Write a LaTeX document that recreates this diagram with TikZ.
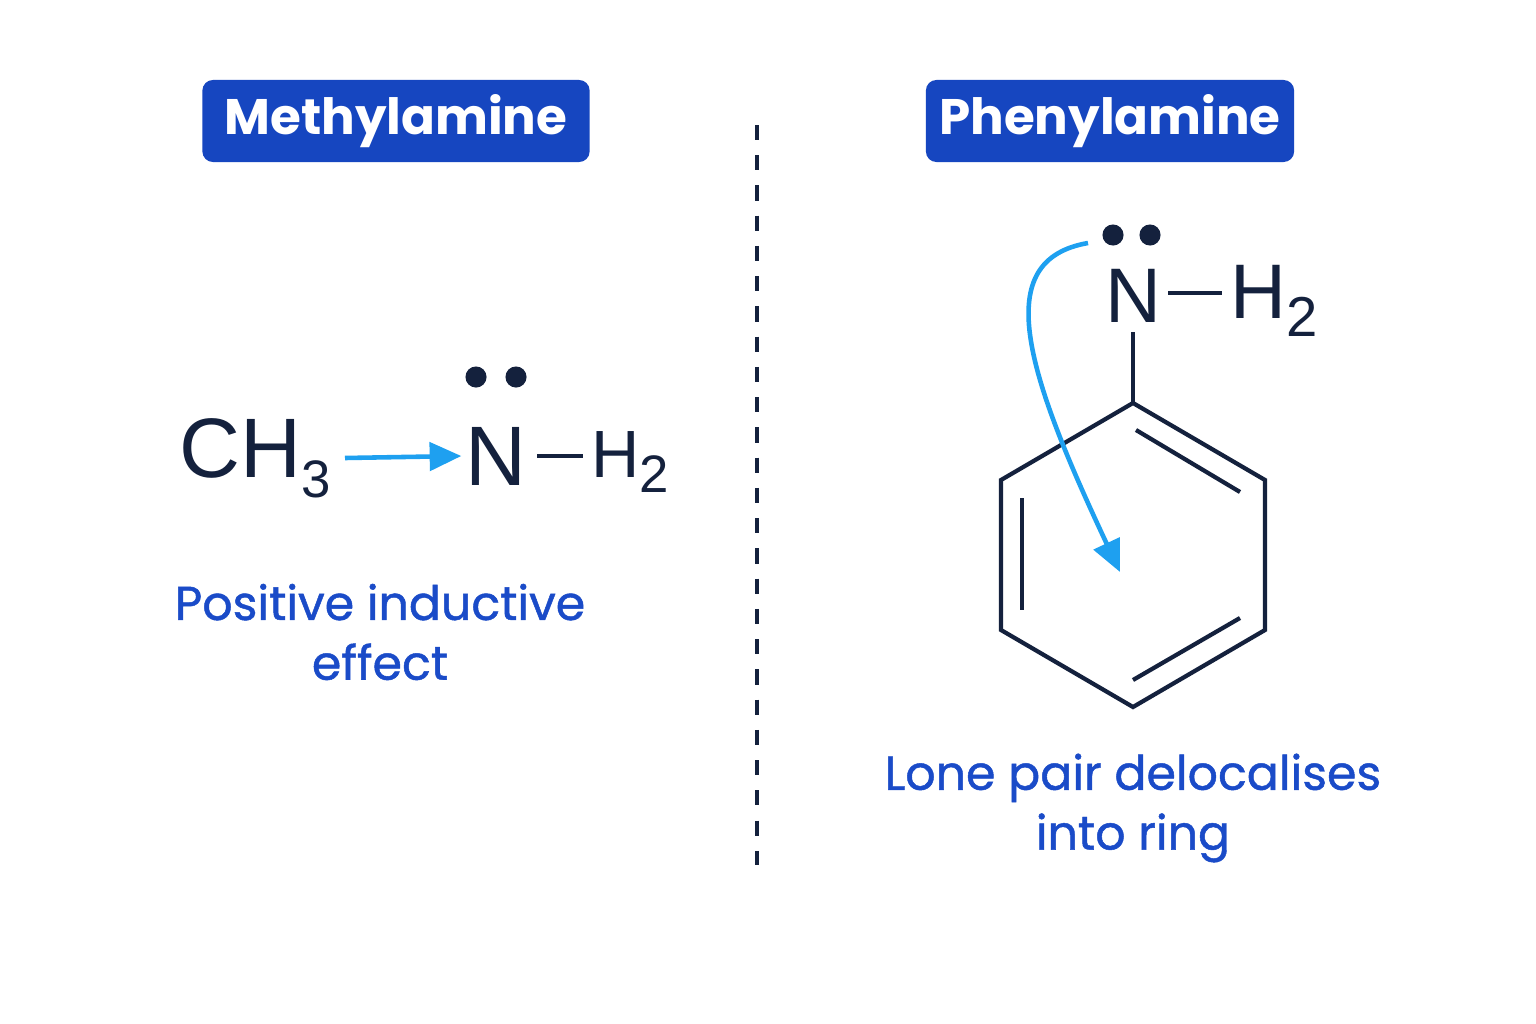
\documentclass[tikz,border=0pt]{standalone}
\usepackage{fontspec}
\setmainfont{Liberation Sans}
\newfontfamily\labelfont{Poppins}
\newfontfamily\notefont[FakeBold=1.0]{Poppins}
\usetikzlibrary{arrows.meta,positioning}
\definecolor{titleblue}{HTML}{1646C0}
\definecolor{textblue}{HTML}{1A4BC8}
\definecolor{arrowblue}{HTML}{1EA0F0}
\definecolor{ink}{HTML}{14213D}
\tikzset{
  title/.style={fill=titleblue, rounded corners=3pt, text=white, font=\labelfont\bfseries\fontsize{14.2}{18}\selectfont, minimum height=0.82cm, inner sep=0pt},
  note/.style={text=textblue, font=\notefont\fontsize{13.5}{17}\selectfont, align=center},
  atom/.style={text=ink, inner sep=1pt},
  bond/.style={ink, line width=1.2pt},
  push/.style={arrowblue, line width=1.3pt, -{Triangle[length=9pt,width=8pt]}},
  pair/.style={circle, fill=ink, inner sep=0pt, minimum size=6pt}
}
\begin{document}
\begin{tikzpicture}[x=0.01cm,y=-0.01cm]
  \fill[white] (0,0) rectangle (1536,1024);
  \useasboundingbox (0,0) rectangle (1536,1024);

  % headers
  \node[title, minimum width=3.87cm] (meth) at (396,121) {Methylamine};
  \node[title, minimum width=3.68cm] (phen) at (1110,121) {Phenylamine};
  \draw[ink, line width=1.3pt, dash pattern=on 4.3pt off 4.3pt] (757,125) -- (757,865);

  % methylamine
  \node[atom, font=\fontsize{24}{26}\selectfont] (ch) at (255,458) {CH\raisebox{-0.45ex}{\fontsize{15}{18}\selectfont 3}};
  \node[atom, font=\fontsize{24}{26}\selectfont] (n1) at (496,456) {N};
  \node[atom, font=\fontsize{19}{22}\selectfont] (h1) at (630,462) {H\raisebox{-0.45ex}{\fontsize{15}{18}\selectfont 2}};
  \node[pair] (d1) at (476,377) {};
  \node[pair] (d2) at (516,377) {};
  \draw[push] (345,458) -- (n1.west);
  \draw[bond] (537,456) -- (583,456);
  \node[note] (pos) at (380,632) {Positive inductive\\effect};

  % phenylamine
  \node[atom, font=\fontsize{22}{25}\selectfont] (n2) at (1133,296) {N};
  \node[atom, font=\fontsize{22}{25}\selectfont] (h2) at (1274,301) {H\raisebox{-0.45ex}{\fontsize{16}{20}\selectfont 2}};
  \node[pair] (d3) at (1113,235) {};
  \node[pair] (d4) at (1150,235) {};
  \draw[bond] (1168,293) -- (1222,293);
  \coordinate (c1) at (1133,403);
  \coordinate (c2) at (1265,480);
  \coordinate (c3) at (1265,630);
  \coordinate (c4) at (1133,707);
  \coordinate (c5) at (1001,630);
  \coordinate (c6) at (1001,480);
  \draw[bond] (1133,332) -- (c1);
  \draw[bond, line join=miter] (c1) -- (c2) -- (c3) -- (c4) -- (c5) -- (c6) -- cycle;
  \draw[bond] (1136,430) -- (1240,492);
  \draw[bond] (1022,498) -- (1022,610);
  \draw[bond] (1133,680) -- (1240,618);
  \draw[push] (1088,243) .. controls (990,260) and (1025,370) .. (1120,572);
  \node[note] (lone) at (1133,808) {Lone pair delocalises\\into ring};
\end{tikzpicture}
\end{document}
